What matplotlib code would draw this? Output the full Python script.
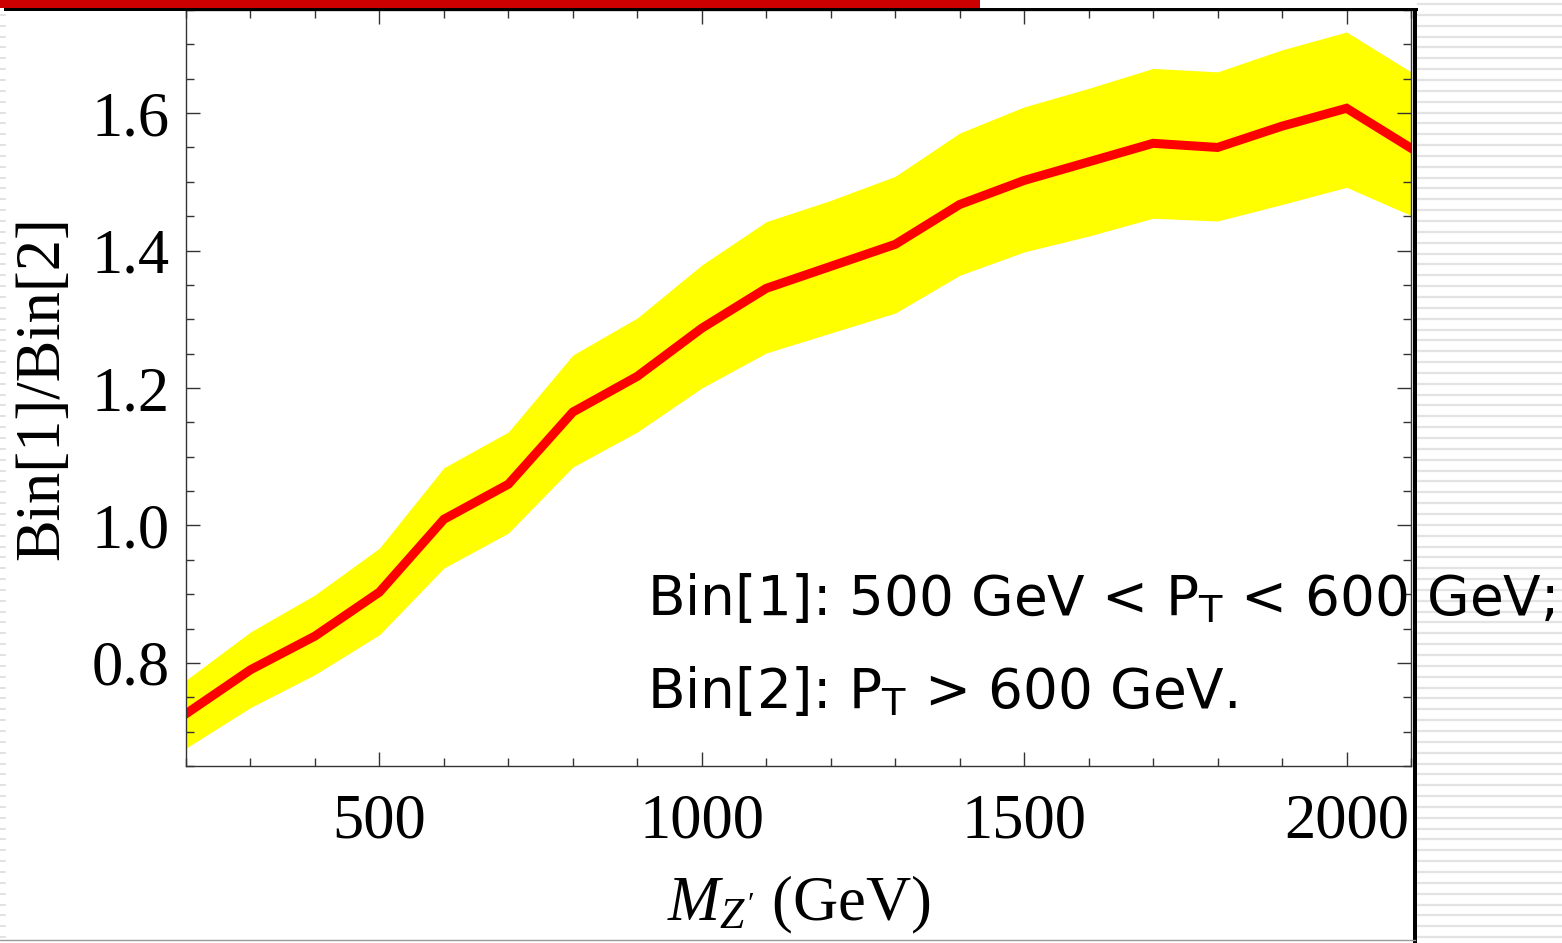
import numpy as np
import matplotlib
matplotlib.use('Agg')
import matplotlib.pyplot as plt
from matplotlib.lines import Line2D
from matplotlib.patches import Rectangle

# data
mass = [200, 300, 400, 500, 600, 700, 800, 900, 1000, 1100,
        1200, 1300, 1400, 1500, 1600, 1700, 1800, 1900, 2000, 2100]
ratio = [0.726, 0.790, 0.839, 0.903, 1.009, 1.060, 1.165, 1.217, 1.287, 1.345,
         1.377, 1.409, 1.467, 1.502, 1.529, 1.556, 1.550, 1.581, 1.607, 1.549]
ratio_hi = [0.775, 0.845, 0.899, 0.967, 1.084, 1.136, 1.248, 1.302, 1.379, 1.442,
            1.473, 1.508, 1.571, 1.609, 1.636, 1.665, 1.660, 1.692, 1.718, 1.660]
ratio_lo = [0.676, 0.735, 0.783, 0.841, 0.938, 0.989, 1.085, 1.136, 1.200, 1.251,
            1.280, 1.309, 1.364, 1.398, 1.421, 1.447, 1.443, 1.467, 1.492, 1.451]

xticks = [500, 1000, 1500, 2000]
yticks = [0.8, 1.0, 1.2, 1.4, 1.6]
ytick_labels = ['0.8', '1.0', '1.2', '1.4', '1.6']

plt.rcParams['mathtext.fontset'] = 'custom'
plt.rcParams['mathtext.it'] = 'Liberation Serif:italic'
plt.rcParams['mathtext.rm'] = 'Liberation Serif'

W, H = 1562, 943
fig = plt.figure(figsize=(W / 100, H / 100), dpi=100)
fig.patch.set_facecolor('white')

# slide decorations (pixel coords -> figure fraction)
def fx(px):
    return px / W

def fy(py):
    return 1 - py / H

# hatched strip on the right (kept below the axes so the text sits on top)
for yy in np.arange(4, H, 10.85):
    fig.add_artist(Line2D([fx(1418), 1], [fy(yy), fy(yy)], color='#e3e3e3',
                          lw=1.6, zorder=-1))
# dotted left edge
for yy in np.arange(4, H, 10.85):
    fig.add_artist(Line2D([0, fx(5)], [fy(yy), fy(yy)], color='#dddddd',
                          lw=1.2, zorder=-1))
# bottom thin line
fig.add_artist(Line2D([0, fx(1415)], [fy(940), fy(940)], color='#999999', lw=1.0))

ax = fig.add_axes([fx(186), fy(766), fx(1411) - fx(186), fy(10) - fy(766)])
ax.fill_between(mass, ratio_lo, ratio_hi, color='#ffff00', lw=0)
ax.plot(mass, ratio, color='#ff0000', lw=6.5, solid_joinstyle='miter')

ax.set_xlim(200, 2100)
ax.set_ylim(0.65, 1.75)
ax.set_xticks(xticks)
ax.set_xticks(np.arange(200, 2101, 100), minor=True)
ax.set_yticks(yticks)
ax.set_yticklabels(ytick_labels)
ax.set_yticks(np.arange(0.65, 1.751, 0.05), minor=True)
ax.tick_params(which='both', direction='in', top=True, right=True,
               color='#333333', width=1.0)
ax.tick_params(which='major', length=10, labelsize=45, pad=12)
ax.tick_params(axis='x', which='major', pad=20)
ax.tick_params(which='minor', length=6)
for lab in ax.get_xticklabels() + ax.get_yticklabels():
    lab.set_fontfamily('Liberation Serif')
for s in ax.spines.values():
    s.set_color('#333333')
    s.set_linewidth(1.0)

ax.set_xlabel(r"$M_{Z'}$ (GeV)", fontsize=45, family='Liberation Serif', labelpad=16)
ax.set_ylabel('Bin[1]/Bin[2]', fontsize=45, family='Liberation Serif', labelpad=14)

ax.text(0.376, 0.1997, r'Bin[1]: 500 GeV < P$_\mathregular{T}$ < 600 GeV;',
        transform=ax.transAxes, fontsize=39.5, family='DejaVu Sans',
        ha='left', va='baseline', clip_on=False)
ax.text(0.376, 0.0767, r'Bin[2]: P$_\mathregular{T}$ > 600 GeV.',
        transform=ax.transAxes, fontsize=39.5, family='DejaVu Sans',
        ha='left', va='baseline', clip_on=False)

# red title bar and heavy frame lines
fig.add_artist(Rectangle((0, fy(8)), fx(980), 8 / H, color='#cc0000', lw=0))
fig.add_artist(Rectangle((fx(4), fy(11)), fx(1418) - fx(4), 3 / H, color='black', lw=0))
fig.add_artist(Rectangle((fx(1413), 0), 4 / W, fy(8), color='black', lw=0))

fig.savefig('out.png', dpi=100)
